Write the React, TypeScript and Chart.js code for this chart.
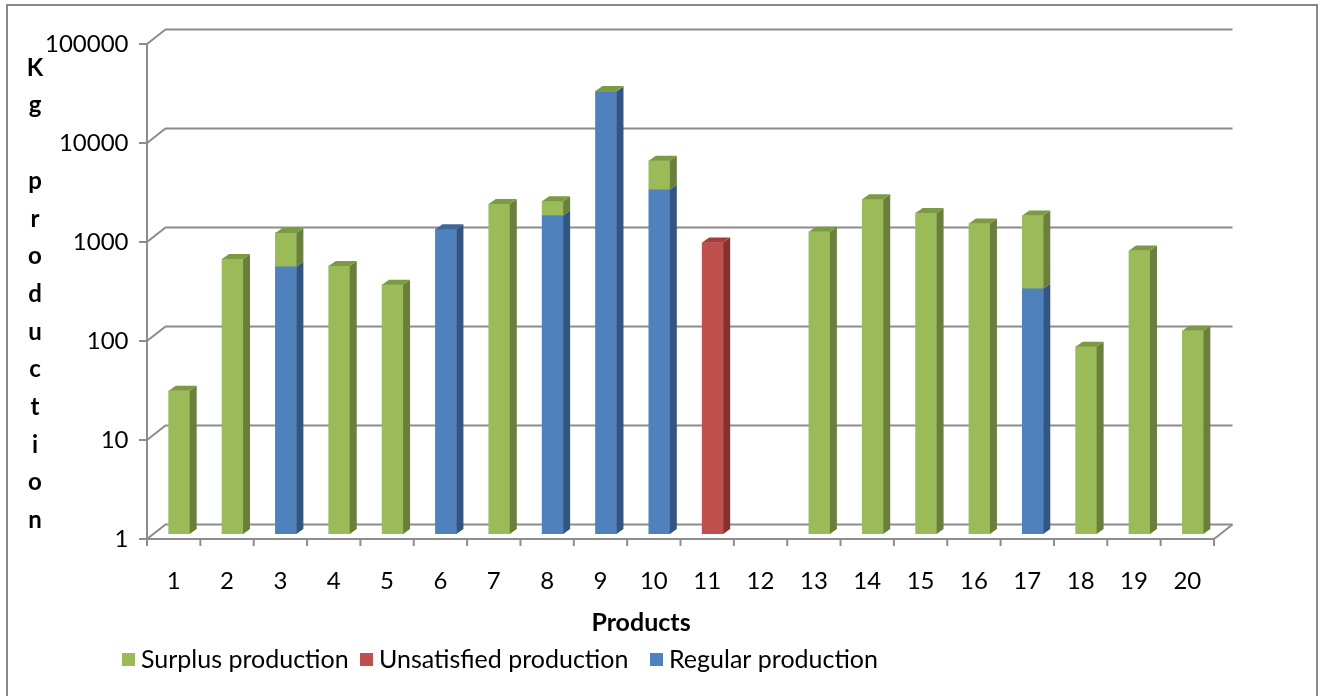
import React, { useEffect, useRef } from "react";
import { Chart, registerables } from "chart.js";

Chart.register(...registerables);

// ---- data ----
const PRODUCTS = ["1", "2", "3", "4", "5", "6", "7", "8", "9", "10", "11", "12", "13", "14", "15", "16", "17", "18", "19", "20"];
const REGULAR = [null, null, 500, null, null, 1200, null, 1650, 29500, 3000, null, null, null, null, null, null, 300, null, null, null];
const SURPLUS = [28, 600, 600, 510, 330, null, 2150, 650, 300, 2900, null, null, 1130, 2400, 1750, 1370, 1350, 78, 730, 113];
const UNSATISFIED = [null, null, null, null, null, null, null, null, null, null, 880, null, null, null, null, null, null, null, null, null];
const Y_TICKS = [1, 10, 100, 1000, 10000, 100000];
const Y_TITLE = "Kg production";
const X_TITLE = "Products";
const LEGEND_ORDER = ["Surplus production", "Unsatisfied production", "Regular production"];
const LEGEND_X = [122, 360, 650];

// ---- style ----
const FONT = "Lato, 'Open Sans', sans-serif";
const GRID = "#8c8c8c";
const FACES: Record<string, { front: string; side: string; top: string }> = {
  "Regular production": { front: "#4f81bd", side: "#335580", top: "#3f6899" },
  "Surplus production": { front: "#9bbb59", side: "#6a7f3b", top: "#7c9a43" },
  "Unsatisfied production": { front: "#c0504d", side: "#85322f", top: "#a23f3c" },
};
// offsets of the front edge and back wall relative to the plane of the bars
const FRONT = { dx: -5.5, dy: 5 };
const BACK = { dx: 13, dy: -9.5 };
const BAR_DEPTH = { dx: 7, dy: -5 };

const walls = {
  id: "walls",
  beforeDraw(chart: any) {
    const { ctx, width, height } = chart;
    ctx.save();
    ctx.fillStyle = "#ffffff";
    ctx.fillRect(0, 0, width, height);
    ctx.strokeStyle = "#888888";
    ctx.lineWidth = 2;
    ctx.strokeRect(7, 5, 1310, height + 10);
    ctx.restore();
  },
  beforeDatasetsDraw(chart: any) {
    const { ctx, chartArea } = chart;
    const y = chart.scales.y;
    const { left, right, top, bottom } = chartArea;
    ctx.save();
    ctx.strokeStyle = GRID;
    ctx.lineWidth = 2;
    ctx.lineCap = "butt";
    const line = (x1: number, y1: number, x2: number, y2: number) => {
      ctx.beginPath();
      ctx.moveTo(x1, y1);
      ctx.lineTo(x2, y2);
      ctx.stroke();
    };
    const fx = left + FRONT.dx;
    Y_TICKS.forEach((v) => {
      const py = y.getPixelForValue(v);
      // back wall gridline + side wall edge + tick mark
      ctx.beginPath();
      ctx.moveTo(fx, py + FRONT.dy);
      ctx.lineTo(left + BACK.dx, py + BACK.dy);
      ctx.lineTo(right + BACK.dx, py + BACK.dy);
      ctx.stroke();
      line(fx - 8, py + FRONT.dy, fx, py + FRONT.dy);
    });
    // front vertical axis
    line(fx, top + FRONT.dy - 1, fx, bottom + FRONT.dy + 1);
    // floor front edge and right edge
    ctx.beginPath();
    ctx.moveTo(fx, bottom + FRONT.dy);
    ctx.lineTo(right + FRONT.dx, bottom + FRONT.dy);
    ctx.lineTo(right + BACK.dx, bottom + BACK.dy);
    ctx.stroke();
    // category tick marks
    const n = PRODUCTS.length;
    for (let i = 0; i <= n; i++) {
      const tx = fx + (i * (right - left)) / n;
      line(tx, bottom + FRONT.dy, tx, bottom + FRONT.dy + 7);
    }
    ctx.restore();
  },
  afterDatasetsDraw(chart: any) {
    const { ctx } = chart;
    const metas = chart.data.datasets.map((_: any, i: number) => chart.getDatasetMeta(i));
    ctx.save();
    for (let idx = 0; idx < PRODUCTS.length; idx++) {
      let topEl: any = null;
      let topLabel = "";
      metas.forEach((meta: any, di: number) => {
        const ds = chart.data.datasets[di];
        if (ds.data[idx] == null) return;
        const el = meta.data[idx];
        const { x, y, base, width } = el.getProps(["x", "y", "base", "width"], true);
        const xr = x + width / 2;
        const c = FACES[ds.label];
        ctx.fillStyle = c.side;
        ctx.beginPath();
        ctx.moveTo(xr, y);
        ctx.lineTo(xr + BAR_DEPTH.dx, y + BAR_DEPTH.dy);
        ctx.lineTo(xr + BAR_DEPTH.dx, base + BAR_DEPTH.dy);
        ctx.lineTo(xr, base);
        ctx.closePath();
        ctx.fill();
        if (!topEl || y < topEl.y) {
          topEl = { x, y, width };
          topLabel = ds.label;
        }
      });
      if (topEl) {
        const xl = topEl.x - topEl.width / 2;
        const xr = topEl.x + topEl.width / 2;
        ctx.fillStyle = FACES[topLabel].top;
        ctx.beginPath();
        ctx.moveTo(xl, topEl.y);
        ctx.lineTo(xl + BAR_DEPTH.dx, topEl.y + BAR_DEPTH.dy);
        ctx.lineTo(xr + BAR_DEPTH.dx, topEl.y + BAR_DEPTH.dy);
        ctx.lineTo(xr, topEl.y);
        ctx.closePath();
        ctx.fill();
      }
    }
    ctx.restore();
  },
  afterDraw(chart: any) {
    const { ctx } = chart;
    ctx.save();
    ctx.fillStyle = "#000000";
    // vertical axis title, one letter per line
    ctx.font = `bold 24px ${FONT}`;
    ctx.textAlign = "center";
    ctx.textBaseline = "middle";
    Array.from(Y_TITLE).forEach((ch, i) => {
      if (ch !== " ") ctx.fillText(ch, 35, 68 + i * 37.7);
    });
    // horizontal axis title
    ctx.font = `bold 25px ${FONT}`;
    ctx.fillText(X_TITLE, 641, 623);
    // legend
    ctx.font = `25px ${FONT}`;
    ctx.textAlign = "left";
    LEGEND_ORDER.forEach((label, i) => {
      const lx = LEGEND_X[i];
      ctx.fillStyle = FACES[label].front;
      ctx.fillRect(lx, 653, 13, 13);
      ctx.fillStyle = "#000000";
      ctx.fillText(label, lx + 19, 660);
    });
    ctx.restore();
  },
};

export default function App() {
  const ref = useRef<HTMLCanvasElement | null>(null);
  useEffect(() => {
    if (!ref.current) return;
    const mk = (label: string, data: (number | null)[]) => ({
      label,
      data,
      backgroundColor: FACES[label].front,
      borderWidth: 0,
      barThickness: 21,
    });
    const chart = new Chart(ref.current, {
      type: "bar",
      data: {
        labels: PRODUCTS,
        datasets: [
          mk("Regular production", REGULAR),
          mk("Surplus production", SURPLUS),
          mk("Unsatisfied production", UNSATISFIED),
        ],
      },
      plugins: [walls],
      options: {
        responsive: false,
        animation: false,
        events: [],
        layout: { padding: { left: 12.5, right: 102.5, top: 39, bottom: 62 } },
        plugins: { legend: { display: false }, tooltip: { enabled: false } },
        scales: {
          x: {
            stacked: true,
            grid: { display: false, drawTicks: false },
            border: { display: false },
            ticks: { color: "#000", font: { family: FONT, size: 24 }, padding: 33, labelOffset: FRONT.dx, maxRotation: 0, autoSkip: false },
            afterFit: (s: any) => { s.height = 100; },
          },
          y: {
            type: "logarithmic",
            stacked: true,
            min: 1,
            max: 100000,
            grid: { display: false, drawTicks: false },
            border: { display: false },
            ticks: { color: "#000", font: { family: FONT, size: 24 }, padding: 24, labelOffset: FRONT.dy, callback: (v: any) => String(v) },
            afterBuildTicks: (s: any) => { s.ticks = Y_TICKS.map((v) => ({ value: v })); },
            afterFit: (s: any) => { s.width = 140; },
          },
        },
      },
    } as any);
    return () => chart.destroy();
  }, []);
  return (
    <div style={{ position: "fixed", left: 0, top: 0, width: 1322, height: 696 }}>
      <canvas ref={ref} width={1322} height={696} style={{ display: "block" }} />
    </div>
  );
}
